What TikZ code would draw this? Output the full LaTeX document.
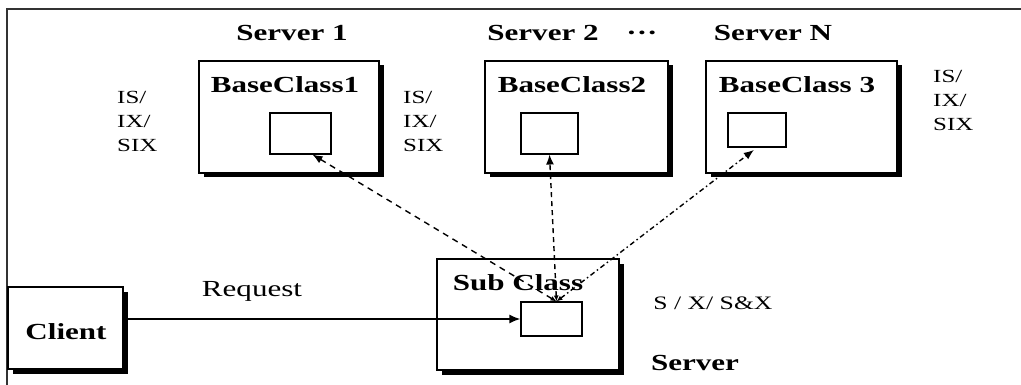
\documentclass[tikz,border=0pt]{standalone}
\usepackage{fontspec}
\setmainfont[FakeStretch=1.35]{Liberation Serif}
\usetikzlibrary{arrows.meta,shadows}

\begin{document}
\begin{tikzpicture}[
    x=1pt, y=-1pt,
    box/.style={rectangle, draw, line width=1.3pt, fill=white, inner sep=0pt,
        drop shadow={shadow xshift=5pt, shadow yshift=-4.5pt, fill=black, opacity=1}},
    slot/.style={rectangle, draw, line width=1.1pt, fill=white, inner sep=0pt},
    title/.style={font=\fontsize{23}{26}\selectfont\bfseries, inner sep=0pt},
    plain/.style={font=\fontsize{23}{26}\selectfont, inner sep=0pt},
    mode/.style={font=\fontsize{18.5}{24}\selectfont, align=left, inner sep=0pt, anchor=west},
    link/.style={{Latex[length=6pt,width=5pt]}-{Latex[length=10pt,width=8pt]}, line width=1.4pt}
]
\useasboundingbox (0,0) rectangle (1021,385);

% Frame
\draw[line width=1.4pt, black!80] (7,385) |- (1021,9);

% Server boxes
\node[box, minimum width=180pt, minimum height=112pt] (base1) at (289,117) {};
\node[box, minimum width=183pt, minimum height=112pt] (base2) at (576.5,117) {};
\node[box, minimum width=191pt, minimum height=112pt] (base3) at (801.5,117) {};
\node[box, minimum width=182pt, minimum height=111pt] (sub) at (528,314.5) {};
\node[box, minimum width=115pt, minimum height=82pt] (client) at (65.5,328) {};

% Inner slots
\node[slot, minimum width=61pt, minimum height=41pt] (slot1) at (300.5,133.5) {};
\node[slot, minimum width=57pt, minimum height=41pt] (slot2) at (549.5,133.5) {};
\node[slot, minimum width=58pt, minimum height=34pt] (slot3) at (757,130) {};
\node[slot, minimum width=61pt, minimum height=34pt] (subslot) at (551.5,319) {};

% Titles
\node[title] (srv1) at (292,33) {Server 1};
\node[title] (srv2) at (543,33) {Server 2};
\node[title] (dots) at (642,36) {···};
\node[title] (srvN) at (773,33) {Server N};
\node[title] (bc1) at (285,85) {BaseClass1};
\node[title] (bc2) at (572,85) {BaseClass2};
\node[title] (bc3) at (797,85) {BaseClass 3};
\node[title] (subtext) at (518,283) {Sub Class};
\node[title] (clienttext) at (66,332) {Client};
\node[title] (srvtext) at (695,363) {Server};
\node[plain] (request) at (252,291) {Request};
\node[font=\fontsize{19}{22}\selectfont, inner sep=0pt] (locks) at (713,303) {S / X/ S\&X};

% Lock modes
\node[mode] (modes1) at (117,121) {IS/\\IX/\\SIX};
\node[mode] (modes2) at (403,121) {IS/\\IX/\\SIX};
\node[mode] (modes3) at (933,100) {IS/\\IX/\\SIX};

% Connections
\coordinate (hub) at ([xshift=5pt]subslot.north);
\draw[link, dash pattern=on 6pt off 5pt] (hub) -- ([xshift=12pt]slot1.south);
\draw[link, dash pattern=on 5pt off 4pt] (hub) -- (slot2.south);
\draw[link, dash pattern=on 5pt off 3pt on 1.5pt off 3pt, shorten >=4pt] (hub) -- (slot3.south);
\draw[-{Latex[length=11pt,width=9pt]}, line width=1.8pt] (client.east |- subslot) -- (subslot.west);

\end{tikzpicture}
\end{document}
